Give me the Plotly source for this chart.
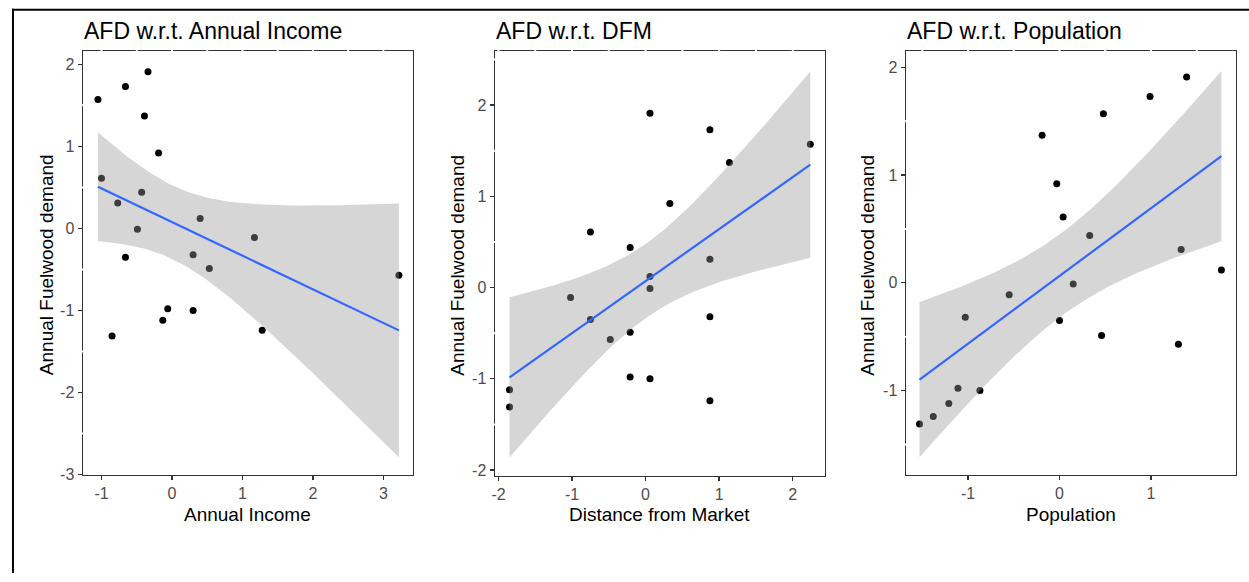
import numpy as np
import plotly.graph_objects as go

# ---------------- data ----------------
afd = [1.91, 1.73, 1.57, 1.37, 0.92, 0.61, 0.44, 0.31, 0.12, -0.01,
       -0.11, -0.32, -0.35, -0.49, -0.57, -0.98, -1.00, -1.12, -1.24, -1.31]
income = [-0.34, -0.66, -1.05, -0.39, -0.19, -1.00, -0.43, -0.77, 0.40, -0.49,
          1.17, 0.30, -0.66, 0.53, 3.22, -0.06, 0.30, -0.13, 1.28, -0.85]
dfm = [0.06, 0.875, 2.24, 1.14, 0.33, -0.75, -0.21, 0.875, 0.06, 0.06,
       -1.02, 0.875, -0.75, -0.21, -0.48, -0.21, 0.06, -1.85, 0.875, -1.85]
population = [1.39, 0.99, 0.48, -0.19, -0.03, 0.04, 0.33, 1.33, 1.77, 0.15,
              -0.55, -1.03, 0.00, 0.46, 1.30, -1.11, -0.87, -1.21, -1.38, -1.53]

titles = ["AFD w.r.t. Annual Income", "AFD w.r.t. DFM", "AFD w.r.t. Population"]
xtitles = ["Annual Income", "Distance from Market", "Population"]
ytitle = "Annual Fuelwood demand"
xticks = [[-1, 0, 1, 2, 3], [-2, -1, 0, 1, 2], [-1, 0, 1]]
yticks = [[-3, -2, -1, 0, 1, 2], [-2, -1, 0, 1, 2], [-1, 0, 1, 2]]

# ---------------- layout geometry (pixels) ----------------
W, H = 1249, 582
panels_px = [(80, 411, 52, 482), (493, 824, 52, 483), (905, 1236, 52, 482)]
xranges = [[-1.265, 3.42], [-2.05, 2.44], [-1.68, 1.93]]
yranges = [[-3.0, 2.16], [-2.06, 2.59], [-1.78, 2.15]]
ytitle_x = [44.4, 456, 867]

FONT = "Liberation Sans, Arial, sans-serif"
T975_DF18 = 2.100922  # t quantile used by lm confidence band (n=20)


def lm_band(x, y, n_grid=80):
    x = np.asarray(x, float)
    y = np.asarray(y, float)
    n = len(x)
    b1, b0 = np.polyfit(x, y, 1)
    resid = y - (b0 + b1 * x)
    s = np.sqrt(np.sum(resid ** 2) / (n - 2))
    xm = x.mean()
    sxx = np.sum((x - xm) ** 2)
    xg = np.linspace(x.min(), x.max(), n_grid)
    yg = b0 + b1 * xg
    se = s * np.sqrt(1.0 / n + (xg - xm) ** 2 / sxx)
    return xg, yg, yg - T975_DF18 * se, yg + T975_DF18 * se


fig = go.Figure()
xs_all = [income, dfm, population]
shapes = []
annotations = []

for i in range(3):
    ax = "" if i == 0 else str(i + 1)
    xa, ya = "x" + ax, "y" + ax
    x = xs_all[i]
    # points
    fig.add_trace(go.Scatter(x=x, y=afd, mode="markers", xaxis=xa, yaxis=ya,
                             marker=dict(color="black", size=7), showlegend=False,
                             hoverinfo="skip"))
    xg, yg, lo, hi = lm_band(x, afd)
    fig.add_trace(go.Scatter(x=np.concatenate([xg, xg[::-1]]),
                             y=np.concatenate([hi, lo[::-1]]),
                             mode="lines", fill="toself",
                             fillcolor="rgba(153,153,153,0.4)",
                             line=dict(width=0), xaxis=xa, yaxis=ya,
                             showlegend=False, hoverinfo="skip"))
    fig.add_trace(go.Scatter(x=xg, y=yg, mode="lines", xaxis=xa, yaxis=ya,
                             line=dict(color="#3366FF", width=2.2),
                             showlegend=False, hoverinfo="skip"))

    l, r, t, b = panels_px[i]
    axis_common = dict(showgrid=False, zeroline=False, showline=True, mirror=True,
                       linecolor="#333333", linewidth=1.3, ticks="outside",
                       ticklen=4, tickwidth=1.3, tickcolor="#333333",
                       tickfont=dict(family=FONT, size=16, color="#4D4D4D"))
    fig.update_layout(**{
        "xaxis" + ax: dict(domain=[l / W, r / W], range=xranges[i], anchor=ya,
                           tickmode="array", tickvals=xticks[i],
                           ticktext=[str(v) for v in xticks[i]], **axis_common),
        "yaxis" + ax: dict(domain=[1 - b / H, 1 - t / H], range=yranges[i], anchor=xa,
                           tickmode="array", tickvals=yticks[i],
                           ticktext=[str(v) for v in yticks[i]], **axis_common),
    })

    # white grid gaps crossing the top and left panel borders
    x0, x1 = xranges[i]
    v = np.ceil(x0 * 2) / 2
    while v <= x1:
        shapes.append(dict(type="line", xref=xa, yref=ya + " domain", x0=v, x1=v,
                           y0=0.994, y1=1.008, line=dict(color="white", width=2),
                           layer="above"))
        v += 0.5
    y0, y1 = yranges[i]
    v = np.ceil(y0 * 2) / 2
    while v <= y1:
        if abs(v - round(v)) > 0.1:
            shapes.append(dict(type="line", xref=xa + " domain", yref=ya, x0=-0.007,
                               x1=0.005, y0=v, y1=v, line=dict(color="white", width=2),
                               layer="above"))
        v += 0.5

    # titles
    annotations.append(dict(text=titles[i], xref="paper", yref="paper",
                            x=(l - 0.5) / W, y=1 - 31.5 / H, xanchor="left",
                            yanchor="middle", showarrow=False,
                            font=dict(family=FONT, size=23, color="black")))
    annotations.append(dict(text=xtitles[i], xref="paper", yref="paper",
                            x=(l + r) / 2 / W, y=1 - 522.5 / H, xanchor="center",
                            yanchor="middle", showarrow=False,
                            font=dict(family=FONT, size=19, color="black")))
    annotations.append(dict(text=ytitle, xref="paper", yref="paper",
                            x=ytitle_x[i] / W, y=1 - 269 / H, xanchor="center",
                            yanchor="middle", showarrow=False, textangle=-90,
                            font=dict(family=FONT, size=19, color="black")))

# outer frame (top and left edges visible)
shapes.append(dict(type="line", xref="paper", yref="paper", x0=9 / W, x1=1.0,
                   y0=1 - 10 / H, y1=1 - 10 / H, line=dict(color="black", width=2)))
shapes.append(dict(type="line", xref="paper", yref="paper", x0=10 / W, x1=10 / W,
                   y0=0, y1=1 - 9 / H, line=dict(color="black", width=2)))

fig.update_layout(width=W, height=H, autosize=False,
                  margin=dict(l=0, r=0, t=0, b=0),
                  paper_bgcolor="white", plot_bgcolor="white",
                  shapes=shapes, annotations=annotations)

fig.write_html("out.html",
               config={"displayModeBar": False, "staticPlot": True},
               post_script="document.body.style.margin='0';"
                           "document.body.style.padding='0';"
                           "document.body.style.overflow='hidden';")
